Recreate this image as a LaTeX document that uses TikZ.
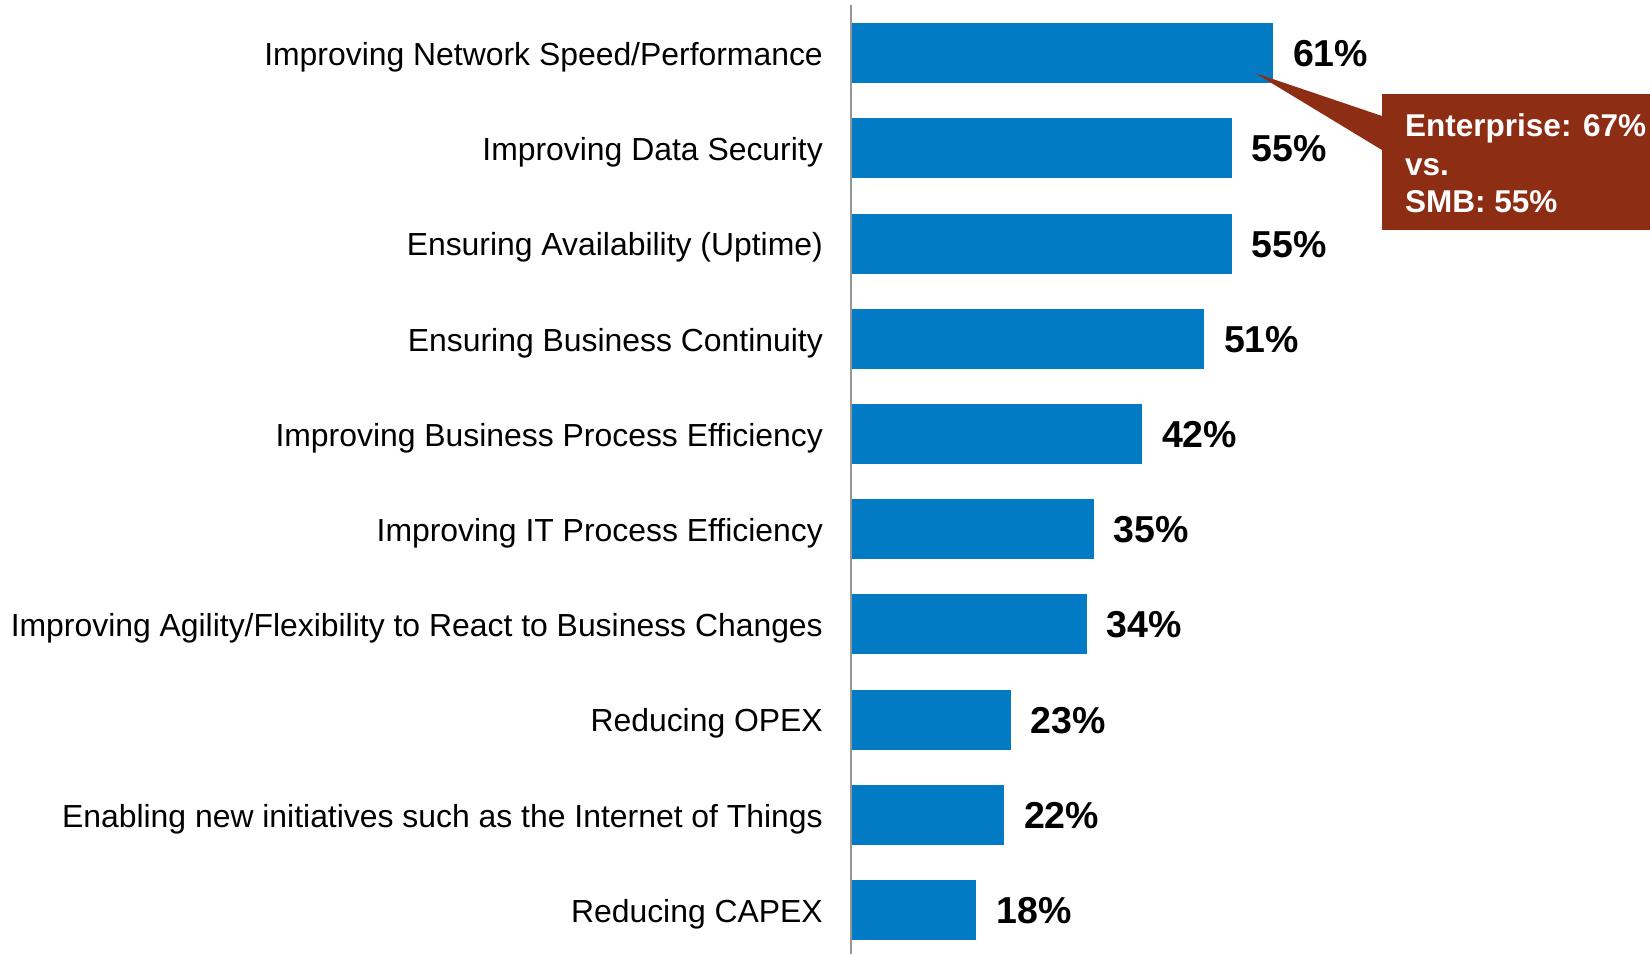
\documentclass[tikz,border=0pt]{standalone}
\usepackage{fontspec}
\setmainfont{Liberation Sans}
\definecolor{barblue}{RGB}{3,123,196}
\definecolor{callred}{RGB}{140,45,20}
\definecolor{axisgray}{RGB}{150,150,150}
\begin{document}
\begin{tikzpicture}[x=1pt,y=-1pt,
  bar/.style={fill=barblue, draw=none, minimum height=60pt, inner sep=0pt, outer sep=0pt, anchor=west},
  cat/.style={anchor=base east, inner sep=0pt, font=\fontsize{31.9}{36}\selectfont},
  pct/.style={anchor=base west, inner sep=0pt, font=\fontsize{37.5}{42}\selectfont\bfseries},
  calltext/.style={anchor=base west, inner sep=0pt, text=white, font=\fontsize{31.5}{38}\selectfont\bfseries}]
\useasboundingbox (0,0) rectangle (1650,954);
\fill[white] (0,0) rectangle (1650,954);
\def\ystep{95.2}
\foreach \i/\v/\t in {0/61/Improving Network Speed\slash Performance,
  1/55/Improving Data Security,
  2/55/Ensuring Availability (Uptime),
  3/51/Ensuring Business Continuity,
  4/42/Improving Business Process Efficiency,
  5/35/Improving IT Process Efficiency,
  6/34/Improving Agility\slash Flexibility to React to Business Changes,
  7/23/Reducing OPEX,
  8/22/Enabling new initiatives such as the Internet of Things,
  9/18/Reducing CAPEX}{
  \pgfmathsetmacro{\yc}{53.2+\ystep*\i}
  \pgfmathsetmacro{\w}{6.9*\v}
  \node[bar, minimum width=\w pt] (b\i) at (852,\yc) {};
  \node[cat] (c\i) at (823,\yc+12.3) {\t};
  \node[pct] (p\i) at ([xshift=20pt,yshift=-13.5pt]b\i.east) {\v\%};
}
\coordinate (axtop) at (851,5);
\coordinate (axbot) at (851,954);
\draw[axisgray, line width=2pt] (axtop) -- (axbot);
% callout
\node[fill=callred, minimum width=268pt, minimum height=136pt, inner sep=0pt, anchor=north west] (box) at (1382,94) {};
\coordinate (tip) at (1255,73);
\fill[callred] (tip) -- (box.north west |- 0,116) -- (box.north west |- 0,150) -- cycle;
\node[calltext] (ct1) at (1405,136) {Enterprise: 67\%};
\node[calltext] (ct2) at (1405,175) {vs.};
\node[calltext] (ct3) at (1405,212) {SMB: 55\%};
\end{tikzpicture}
\end{document}
